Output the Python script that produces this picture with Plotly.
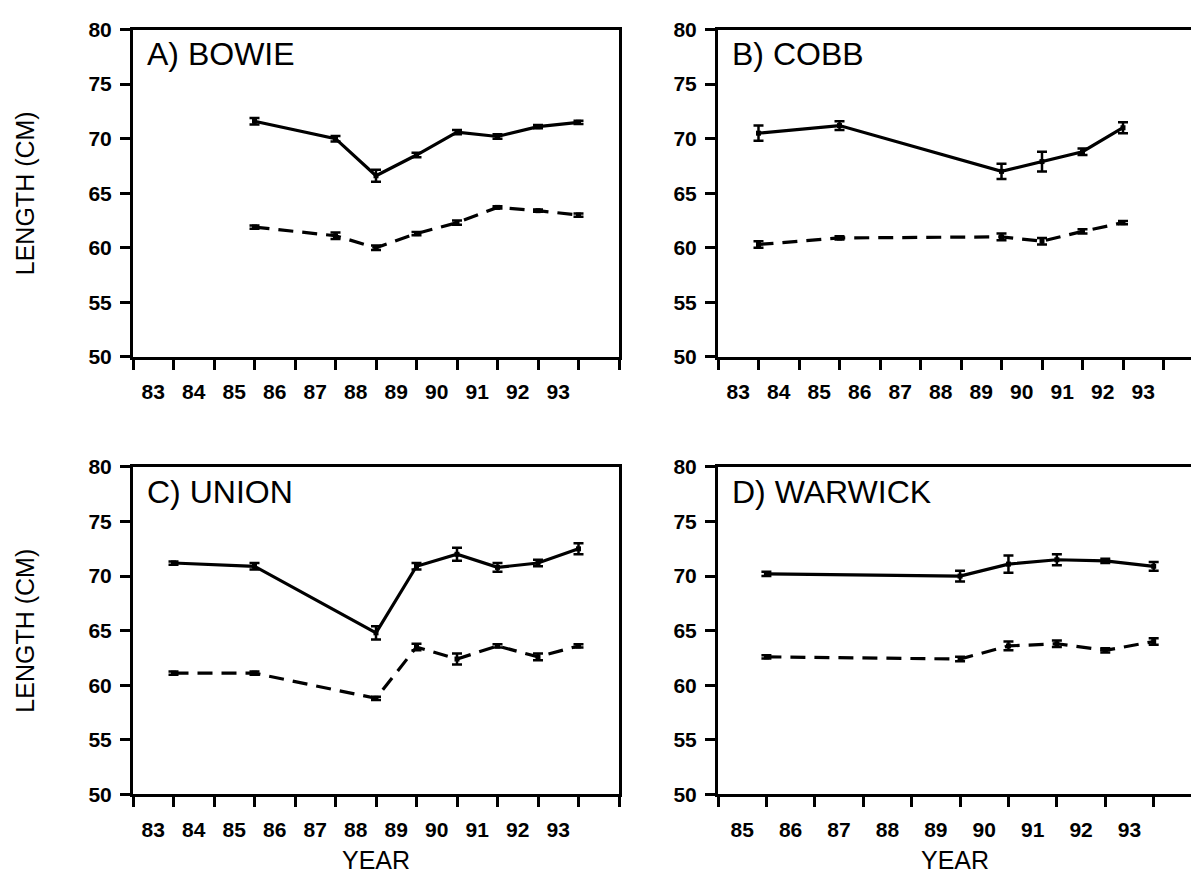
import plotly.graph_objects as go

# ---- data: mean length (cm) by year, two series per site, with standard errors ----
bowie_years = [85, 87, 88, 89, 90, 91, 92, 93]
bowie_solid = [71.6, 70.0, 66.6, 68.5, 70.6, 70.2, 71.1, 71.5]
bowie_solid_se = [0.3, 0.25, 0.55, 0.2, 0.2, 0.2, 0.15, 0.15]
bowie_dashed = [61.9, 61.1, 60.0, 61.3, 62.3, 63.7, 63.4, 63.0]
bowie_dashed_se = [0.15, 0.3, 0.2, 0.15, 0.2, 0.1, 0.1, 0.15]

cobb_years = [83, 85, 89, 90, 91, 92]
cobb_solid = [70.5, 71.2, 67.0, 67.9, 68.8, 71.0]
cobb_solid_se = [0.7, 0.4, 0.7, 0.9, 0.3, 0.5]
cobb_dashed = [60.3, 60.9, 61.0, 60.6, 61.5, 62.3]
cobb_dashed_se = [0.3, 0.15, 0.3, 0.3, 0.2, 0.15]

union_years = [83, 85, 88, 89, 90, 91, 92, 93]
union_solid = [71.2, 70.9, 64.8, 70.9, 72.0, 70.8, 71.2, 72.5]
union_solid_se = [0.15, 0.3, 0.6, 0.3, 0.6, 0.4, 0.3, 0.5]
union_dashed = [61.1, 61.1, 58.8, 63.5, 62.4, 63.6, 62.6, 63.6]
union_dashed_se = [0.15, 0.15, 0.15, 0.3, 0.5, 0.15, 0.3, 0.15]

warwick_years = [85, 89, 90, 91, 92, 93]
warwick_solid = [70.2, 70.0, 71.1, 71.5, 71.4, 70.9]
warwick_solid_se = [0.2, 0.5, 0.8, 0.5, 0.2, 0.4]
warwick_dashed = [62.6, 62.4, 63.6, 63.8, 63.2, 64.0]
warwick_dashed_se = [0.15, 0.2, 0.4, 0.3, 0.2, 0.3]

panel_titles = ["A) BOWIE", "B) COBB", "C) UNION", "D) WARWICK"]

y_ticks = [50, 55, 60, 65, 70, 75, 80]
# tick marks sit on whole years; year labels sit in the gap just left of each mark
full_marks = list(range(82, 95))
full_labels = [str(y) for y in range(83, 94)]
short_marks = list(range(84, 95))
short_labels = [str(y) for y in range(85, 94)]

W, H = 1191, 894
FONT = "Liberation Sans, Arial, Helvetica, sans-serif"


def px_x(v):
    return v / W


def px_y(v):
    return 1 - v / H


panels = [
    dict(years=bowie_years, solid=bowie_solid, solid_se=bowie_solid_se,
         dashed=bowie_dashed, dashed_se=bowie_dashed_se,
         xdom=(133, 619), ydom=(18, 354), xrange=(82, 94),
         marks=full_marks, labels=full_labels, right=True),
    dict(years=cobb_years, solid=cobb_solid, solid_se=cobb_solid_se,
         dashed=cobb_dashed, dashed_se=cobb_dashed_se,
         xdom=(718, 1191), ydom=(18, 354), xrange=(82, 82 + (1191 - 718) / 40.5),
         marks=full_marks, labels=full_labels, right=False),
    dict(years=union_years, solid=union_solid, solid_se=union_solid_se,
         dashed=union_dashed, dashed_se=union_dashed_se,
         xdom=(133, 619), ydom=(467, 803), xrange=(82, 94),
         marks=full_marks, labels=full_labels, right=True),
    dict(years=warwick_years, solid=warwick_solid, solid_se=warwick_solid_se,
         dashed=warwick_dashed, dashed_se=warwick_dashed_se,
         xdom=(718, 1191), ydom=(467, 803), xrange=(84, 84 + (1191 - 722) / 48.0),
         marks=short_marks, labels=short_labels, right=False),
]

fig = go.Figure()
layout = dict(
    width=W, height=H,
    margin=dict(l=0, r=0, t=0, b=0),
    paper_bgcolor="white", plot_bgcolor="white",
    showlegend=False,
    annotations=[],
)

for i, p in enumerate(panels, start=1):
    xa = "x" if i == 1 else f"x{i}"
    ya = "y" if i == 1 else f"y{i}"
    for vals, se, dash in [(p["solid"], p["solid_se"], "solid"),
                           (p["dashed"], p["dashed_se"], "15px,9px")]:
        fig.add_trace(go.Scatter(
            x=p["years"], y=vals, xaxis=xa, yaxis=ya,
            mode="lines+markers",
            line=dict(color="black", width=3.2, dash=dash),
            marker=dict(symbol="square", size=5, color="black"),
            error_y=dict(type="data", array=se, color="black",
                         thickness=2.5, width=5),
            cliponaxis=False,
        ))

    label_pos = [int(t) - 0.5 for t in p["labels"]]
    xkey = "xaxis" if i == 1 else f"xaxis{i}"
    ykey = "yaxis" if i == 1 else f"yaxis{i}"
    layout[xkey] = dict(
        domain=[px_x(p["xdom"][0]), px_x(p["xdom"][1])],
        range=list(p["xrange"]),
        anchor=ya,
        # labels: invisible major ticks between the marks
        tickmode="array", tickvals=label_pos, ticktext=p["labels"],
        ticks="outside", ticklen=10, tickwidth=2.5, tickcolor="rgba(0,0,0,0)",
        # visible tick marks on whole years
        minor=dict(tickmode="array", tickvals=p["marks"], ticks="outside",
                   ticklen=10, tickwidth=2.5, tickcolor="black", showgrid=False),
        showline=True, linecolor="black", linewidth=3, mirror=True,
        showgrid=False, zeroline=False,
        tickfont=dict(family=FONT, size=21, color="black", weight="bold"),
        ticklabelstandoff=4,
    )
    layout[ykey] = dict(
        domain=[px_y(p["ydom"][1]), px_y(p["ydom"][0])],
        range=[50, 80],
        anchor=xa,
        tickmode="array", tickvals=y_ticks,
        ticks="outside", ticklen=10, tickwidth=2.5, tickcolor="black",
        showline=True, linecolor="black", linewidth=3, mirror=p["right"],
        showgrid=False, zeroline=False,
        tickfont=dict(family=FONT, size=21, color="black", weight="bold"),
        ticklabelstandoff=4,
    )
    layout["annotations"].append(dict(
        text=panel_titles[i - 1], xref="paper", yref="paper",
        x=px_x(p["xdom"][0] + 12), y=px_y(p["ydom"][0] + 5),
        xanchor="left", yanchor="top", showarrow=False,
        font=dict(family=FONT, size=32, color="black"),
    ))

# shared axis titles
for yc in (186, 635):
    layout["annotations"].append(dict(
        text="LENGTH (CM)", xref="paper", yref="paper",
        x=px_x(25), y=px_y(yc), textangle=-90,
        xanchor="center", yanchor="middle", showarrow=False,
        font=dict(family=FONT, size=25, color="black"),
    ))
for xc in (376, 955):
    layout["annotations"].append(dict(
        text="YEAR", xref="paper", yref="paper",
        x=px_x(xc), y=px_y(870),
        xanchor="center", yanchor="middle", showarrow=False,
        font=dict(family=FONT, size=25, color="black"),
    ))

fig.update_layout(**layout)
fig.write_html("out.html")
